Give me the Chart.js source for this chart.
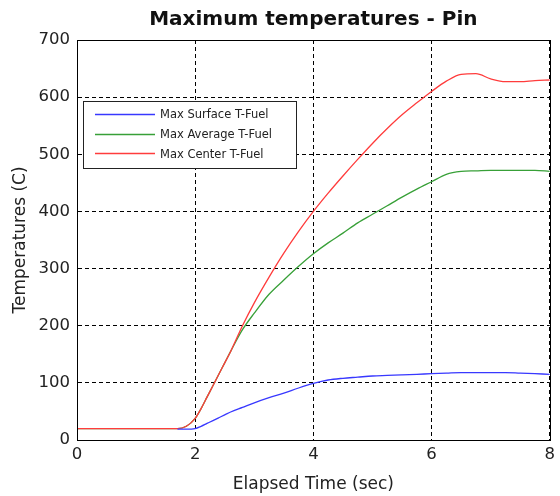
<!DOCTYPE html>
<html>
<head>
<meta charset="utf-8">
<script src="https://cdn.jsdelivr.net/npm/chart.js@4/dist/chart.umd.min.js"></script>
<style>
html,body{margin:0;padding:0;background:#fff;}
#wrap{width:560px;height:496px;}
</style>
</head>
<body>
<div id="wrap"><canvas id="c" width="560" height="496"></canvas></div>
<script>
const times = [0, 0.5, 1, 1.5, 1.7, 1.85, 2.0, 2.1, 2.2, 2.3, 2.4, 2.5, 2.6, 2.8, 3.0, 3.25, 3.5, 3.75, 4.0, 4.25, 4.5, 4.75, 5.0, 5.25, 5.5, 5.75, 6.0, 6.25, 6.5, 6.75, 7.0, 7.25, 7.5, 7.75, 8.0];
const surfaceTimes = [1.7, 1.85, 2.0, 2.1, 2.2, 2.3, 2.4, 2.5, 2.6, 2.8, 3.0, 3.25, 3.5, 3.75, 4.0, 4.25, 4.5, 4.75, 5.0, 5.25, 5.5, 5.75, 6.0, 6.25, 6.5, 6.75, 7.0, 7.25, 7.5, 7.75, 8.0];
const surfaceT = [19, 19, 20, 24, 29, 34, 39, 44, 49, 57, 65, 74, 82, 91, 99, 105, 108, 110, 112, 113, 114, 115, 116, 117, 118, 118, 118, 118, 117, 116, 115];
const averageT = [20, 20, 20, 20, 20, 24, 38, 55, 75, 95, 115, 135, 155, 193, 222, 255, 280, 304, 326, 345, 362, 380, 395, 410, 425, 439, 452, 465, 470, 471, 472, 472, 472, 472, 470];
const centerT = [20, 20, 20, 20, 20, 24, 38, 55, 75, 95, 115, 135, 155, 200, 240, 285, 327, 365, 400, 432, 462, 491, 519, 545, 569, 590, 610, 628, 640, 641, 632, 627, 627, 629, 630];
const seriesNames = ['Max Surface T-Fuel', 'Max Average T-Fuel', 'Max Center T-Fuel'];
const seriesColors = ['#3838ff', '#38a038', '#ff3c3c'];
const xTicks = [0, 2, 4, 6, 8];
const yTicks = [0, 100, 200, 300, 400, 500, 600, 700];
const titleText = 'Maximum temperatures - Pin';
const xTitle = 'Elapsed Time (sec)';
const yTitle = 'Temperatures (C)';

const toPts = (ts, vals) => vals.map((v, i) => ({x: ts[i], y: v}));
const seriesData = [toPts(surfaceTimes, surfaceT), toPts(times, averageT), toPts(times, centerT)];
const drawOrder = [0, 2, 1];

const FONT = '"DejaVu Sans", Verdana, sans-serif';

const framePlugin = {
  id: 'frame',
  afterDatasetsDraw(chart) {
    const {ctx, chartArea: a} = chart;
    ctx.save();
    ctx.strokeStyle = '#000';
    ctx.lineWidth = 1;
    ctx.setLineDash([]);
    ctx.strokeRect(Math.round(a.left) + 0.5, Math.round(a.top) + 0.5, Math.round(a.right - a.left), Math.round(a.bottom - a.top));
    // legend
    const bx = 83, by = 101, bw = 213, bh = 67;
    ctx.fillStyle = '#fff';
    ctx.fillRect(bx, by, bw, bh);
    ctx.strokeStyle = '#222';
    ctx.strokeRect(bx + 0.5, by + 0.5, bw, bh);
    ctx.font = '11.5px ' + FONT;
    ctx.textBaseline = 'alphabetic';
    ctx.textAlign = 'left';
    chart.data.datasets.forEach((ds, i) => {
      const y = 114 + i * 19.6;
      ctx.strokeStyle = ds.borderColor;
      ctx.lineWidth = 1.3;
      ctx.beginPath();
      ctx.moveTo(95, Math.round(y) + 0.5);
      ctx.lineTo(155, Math.round(y) + 0.5);
      ctx.stroke();
      ctx.fillStyle = '#222';
      ctx.fillText(ds.label, 160, y + 4.3);
    });
    // title
    ctx.font = 'bold 20px ' + FONT;
    ctx.fillStyle = '#111';
    ctx.textAlign = 'center';
    ctx.fillText(titleText, (a.left + a.right) / 2, 25);
    ctx.restore();
  }
};

new Chart(document.getElementById('c'), {
  type: 'line',
  data: {
    datasets: seriesData.map((pts, i) => ({
      label: seriesNames[i],
      data: pts,
      borderColor: seriesColors[i],
      backgroundColor: seriesColors[i],
      borderWidth: 1.3,
      pointRadius: 0,
      cubicInterpolationMode: 'monotone',
      order: drawOrder[i],
      fill: false
    }))
  },
  options: {
    responsive: false,
    animation: false,
    events: [],
    layout: {padding: {top: 40, right: 8, left: 0, bottom: 0}},
    plugins: {
      legend: {display: false},
      title: {display: false},
      tooltip: {enabled: false}
    },
    scales: {
      x: {
        type: 'linear',
        min: 0, max: 8,
        afterFit(s) { s.height = 56; },
        afterBuildTicks(s) { s.ticks = xTicks.map(v => ({value: v})); },
        ticks: {font: {size: 16.5, family: FONT}, color: '#222', padding: 5, maxRotation: 0},
        grid: {color: '#000', lineWidth: 1, drawTicks: false},
        border: {display: true, color: '#000', dash: [4, 3]},
        title: {display: true, text: xTitle, font: {size: 17, family: FONT}, color: '#222', padding: {top: 0, bottom: 1}}
      },
      y: {
        type: 'linear',
        min: 0, max: 700,
        afterFit(s) { s.width = 77; },
        afterBuildTicks(s) { s.ticks = yTicks.map(v => ({value: v})); },
        ticks: {font: {size: 16.5, family: FONT}, color: '#222', padding: 7},
        grid: {color: '#000', lineWidth: 1, drawTicks: false},
        border: {display: true, color: '#000', dash: [4, 3]},
        title: {display: true, text: yTitle, font: {size: 17, family: FONT}, color: '#222', padding: {top: 10, bottom: 0}}
      }
    }
  },
  plugins: [framePlugin]
});
</script>
</body>
</html>
